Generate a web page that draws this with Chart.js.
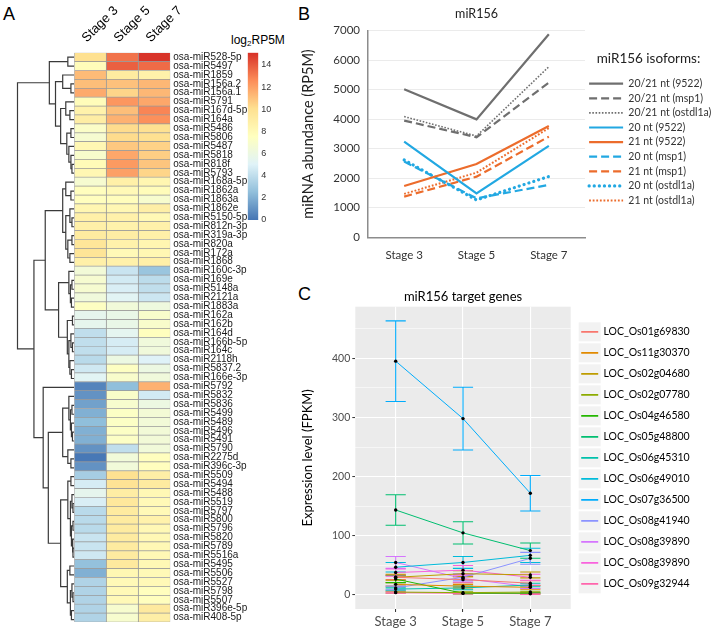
<!DOCTYPE html>
<html><head><meta charset="utf-8">
<script src="https://cdn.jsdelivr.net/npm/chart.js"></script>
<style>
html,body{margin:0;padding:0;background:#fff;}
body{width:712px;height:631px;position:relative;overflow:hidden;}
canvas{position:absolute;}
.lbl{position:absolute;font-family:"Liberation Sans",Arial,sans-serif;font-size:18px;line-height:18px;color:#000;}
.cbt{position:absolute;font-family:"Liberation Sans",Arial,sans-serif;font-size:12px;line-height:14px;color:#000;white-space:nowrap;}
.cbt sub{font-size:8px;vertical-align:-2px;}
</style></head><body>
<div class="lbl" style="left:3px;top:5px">A</div>
<div class="lbl" style="left:298px;top:5px">B</div>
<div class="lbl" style="left:298px;top:285px">C</div>
<div class="cbt" style="left:231px;top:33px">log<sub>2</sub>RP5M</div>
<canvas id="dendro" width="75" height="631" style="left:0;top:0"></canvas>
<canvas id="heat" width="190" height="631" style="left:64px;top:0"></canvas>
<canvas id="cbar" width="70" height="200" style="left:225px;top:30px"></canvas>
<canvas id="panelB" width="412" height="262" style="left:300px;top:0"></canvas>
<canvas id="panelC" width="412" height="366" style="left:300px;top:265px"></canvas>
<script>
// ---------------- DATA ----------------
const stageLabels = ['Stage 3', 'Stage 5', 'Stage 7'];

const mirNames = ['osa-miR528-5p','osa-miR5497','osa-miR1859','osa-miR156a.2','osa-miR156a.1','osa-miR5791','osa-miR167d-5p','osa-miR164a',
 'osa-miR5486','osa-miR5806','osa-miR5487','osa-miR5818','osa-miR818f','osa-miR5793','osa-miR168a-5p','osa-miR1862a','osa-miR1863a',
 'osa-miR1862e','osa-miR5150-5p','osa-miR812n-3p','osa-miR319a-3p','osa-miR820a','osa-miR172a','osa-miR1868','osa-miR160c-3p',
 'osa-miR169e','osa-miR5148a','osa-miR2121a','osa-miR1883a','osa-miR162a','osa-miR162b','osa-miR164d','osa-miR166b-5p','osa-miR164c',
 'osa-miR2118h','osa-miR5837.2','osa-miR166e-3p','osa-miR5792','osa-miR5832','osa-miR5836','osa-miR5499','osa-miR5489','osa-miR5496',
 'osa-miR5491','osa-miR5790','osa-miR2275d','osa-miR396c-3p','osa-miR5509','osa-miR5494','osa-miR5488','osa-miR5519','osa-miR5797',
 'osa-miR5800','osa-miR5796','osa-miR5820','osa-miR5789','osa-miR5516a','osa-miR5495','osa-miR5506','osa-miR5527','osa-miR5798',
 'osa-miR5507','osa-miR396e-5p','osa-miR408-5p'];

// log2 RP5M per stage
const stage3Vals = [10,7.8,11.2,11.1,11.7,7.8,8.6,9.0,7.2,6.8,8.2,7.0,7.9,8.2,6.8,7.6,7.6,8.3,8.8,8.8,9.2,9.6,9.7,8.8,
 6.5,6.8,6.8,6.3,7.4,5.5,5.5,4.0,4.0,4.0,3.8,4.5,5.2,0.5,1.0,1.5,2.0,2.5,2.0,2.0,1.0,0.1,1.0,3.2,4.7,5.5,4.8,3.8,3.8,3.8,4.3,4.3,4.5,2.6,2.0,3.5,3.5,3.5,3.5,3.5];
const stage5Vals = [13.3,13.8,9.2,11.0,10.4,12.3,11.1,11.5,10.2,10.2,10.8,11.8,12.2,12.0,8.8,8.0,7.7,8.2,8.7,8.6,9.0,8.6,8.0,8.7,
 4.3,4.6,4.8,5.2,6.4,5.8,5.8,5.4,4.7,4.7,6.0,7.4,7.0,2.5,7.1,6.9,7.3,7.3,7.3,7.3,4.0,6.4,6.4,10.0,9.8,9.0,9.4,9.2,9.2,9.2,9.2,9.2,9.2,9.3,8.2,8.0,8.0,8.0,6.9,6.9];
const stage7Vals = [15.0,13.5,8.7,11.3,11.3,11.8,12.8,12.5,10.0,10.0,10.5,10.6,10.9,10.4,8.3,7.8,6.9,8.9,8.1,8.7,8.8,8.3,8.2,8.8,
 2.8,3.9,4.0,4.4,6.2,7.0,7.0,7.6,6.3,6.3,5.0,6.0,6.3,11.5,4.6,6.0,6.6,6.5,6.5,6.5,6.4,7.6,7.6,8.9,9.2,8.1,8.0,8.0,8.6,8.1,8.1,8.1,8.1,8.1,8.0,8.0,7.6,7.6,9.3,8.9];
const colorMax = 15.1;
const legendTicks = [0, 2, 4, 6, 8, 10, 12, 14];

// row clustering: [left, right, height]; plain numbers are row indices
const clusterTop = [[0, 1, 6], [[2, [3, 4, 3], 11], [[5, [6, 7, 4], 8], [[8, 9, 3], [10, [11, [12, 13, 2], 3], 5], 7], 13], 18], 24];
const clusterMid = [[[14, [15, 16, 3], 8], [[17, [18, 19, 2], 4], [[20, 21, 2], [22, 23, 4], 6], 8], 11],
                    [[24, [[25, 26, 2], [27, 28, 2.5], 3.5], 5], [[29, 30, 1.5], [[31, [32, 33, 1.5], 3], [34, [35, 36, 2.5], 4], 5], 6.5], 15], 28];
const clusterLow = [37, [[[38, [[39, 40, 2], [41, [42, 43, 1.5], 2.5], 3.5], 5], [44, [45, 46, 3], 6], 11],
                        [[[47, 48, 3], [[49, [50, 51, 1], 2], [[52, 53, 1], [54, [55, 56, 1], 1.5], 2.5], 3.5], 6],
                         [[57, 58, 4], [[59, [60, 61, 1], 2], [62, 63, 2.5], 3.5], 6.5], 13], 25], 30];
const dendroTree = [clusterTop, [clusterMid, clusterLow, 39], 55];

// Panel B
const isoformNames = ['20/21 nt (9522)','20/21 nt (msp1)','20/21 nt (ostdl1a)','20 nt (9522)','21 nt (9522)','20 nt (msp1)','21 nt (msp1)','20 nt (ostdl1a)','21 nt (ostdl1a)'];
const isoformValues = [
  [5015, 3995, 6880],
  [3955, 3390, 5240],
  [4090, 3430, 5780],
  [3240, 1490, 3100],
  [1740, 2485, 3770],
  [2565, 1320, 1775],
  [1380, 2055, 3410],
  [2620, 1265, 2060],
  [1470, 2190, 3700]
];
const bTicks = [0, 1000, 2000, 3000, 4000, 5000, 6000, 7000];

// Panel C
const geneNames = ['LOC_Os01g69830','LOC_Os11g30370','LOC_Os02g04680','LOC_Os02g07780','LOC_Os04g46580','LOC_Os05g48800',
 'LOC_Os06g45310','LOC_Os06g49010','LOC_Os07g36500','LOC_Os08g41940','LOC_Os08g39890','LOC_Os08g39890','LOC_Os09g32944'];
const geneMeans = [
  [30, 26, 20], [18, 15, 13], [30, 36, 34], [5, 4, 5], [27, 3, 3], [143.6, 105, 75],
  [10, 12, 17], [47, 55, 67], [395, 298, 172], [12, 30, 62], [55, 28, 14], [38, 42, 30], [4, 3, 2]
];
const geneSE = [
  [4, 5, 4], [3, 3, 3], [5, 5, 5], [1.5, 1.5, 1.5], [6, 1, 1], [25.8, 18.7, 13],
  [2, 3, 3], [8, 10, 12], [68, 53, 30], [3, 6, 10], [10, 6, 3], [6, 8, 5], [1, 1, 1]
];
const cTicks = [0, 50, 100, 150, 200, 250, 300, 350, 400, 450];

// ---------------- STYLES ----------------
const heatPalette = ['#4575B4','#91BFDB','#E0F3F8','#FFFFBF','#FEE090','#FC8D59','#D73027'];
const genePalette = ['#F8766D','#E18A00','#BE9C00','#8CAB00','#24B700','#00BE70','#00C1AB','#00BBDA','#00ACFC','#8B93FF','#D575FE','#F962DD','#FF65AC'];
const GREY = '#6f6f6f', BLUE = '#22a8e2', ORANGE = '#ec6c2c';
const isoformStyles = [
  {color: GREY, dash: [], width: 2.2, cap: 'butt'},
  {color: GREY, dash: [8, 4], width: 2.2, cap: 'butt'},
  {color: GREY, dash: [1.6, 1.6], width: 1.6, cap: 'butt'},
  {color: BLUE, dash: [], width: 2.2, cap: 'butt'},
  {color: ORANGE, dash: [], width: 2.2, cap: 'butt'},
  {color: BLUE, dash: [8, 4], width: 2.2, cap: 'butt'},
  {color: ORANGE, dash: [8, 4], width: 2.2, cap: 'butt'},
  {color: BLUE, dash: [0.1, 5], width: 3.2, cap: 'round'},
  {color: ORANGE, dash: [1.8, 1.8], width: 2, cap: 'butt'}
];

function hexToRgb(h) { return [parseInt(h.slice(1,3),16), parseInt(h.slice(3,5),16), parseInt(h.slice(5,7),16)]; }
function valueColor(v) {
  const t = Math.max(0, Math.min(1, v / colorMax)) * (heatPalette.length - 1);
  const i = Math.min(Math.floor(t), heatPalette.length - 2), f = t - i;
  const a = hexToRgb(heatPalette[i]), b = hexToRgb(heatPalette[i + 1]);
  return 'rgb(' + a.map((c, k) => Math.round(c + (b[k] - c) * f)).join(',') + ')';
}

Chart.defaults.animation = false;
Chart.defaults.responsive = false;
Chart.defaults.devicePixelRatio = 1;
Chart.defaults.plugins.tooltip.enabled = false;

// ---------------- DENDROGRAM ----------------
const dendroSets = [];
(function walk(node) {
  if (typeof node === 'number') return {y: node, h: 0};
  const l = walk(node[0]), r = walk(node[1]), h = node[2];
  dendroSets.push({data: [{x: l.h, y: l.y}, {x: h, y: l.y}, {x: h, y: r.y}, {x: r.h, y: r.y}],
    showLine: true, borderColor: '#3a3a3a', borderWidth: 1.2, pointRadius: 0, tension: 0, clip: false});
  return {y: (l.y + r.y) / 2, h: h};
})(dendroTree);

new Chart(document.getElementById('dendro'), {
  type: 'scatter',
  data: {datasets: dendroSets},
  options: {
    layout: {padding: {left: 17.5, right: 1, top: 52.7, bottom: 7}},
    plugins: {legend: {display: false}},
    scales: {
      x: {type: 'linear', reverse: true, min: 0, max: dendroTree[2], display: false},
      y: {type: 'linear', reverse: true, min: -0.5, max: mirNames.length - 0.5, display: false}
    }
  }
});

// ---------------- HEATMAP ----------------
const stageValues = [stage3Vals, stage5Vals, stage7Vals];
new Chart(document.getElementById('heat'), {
  type: 'bar',
  data: {
    labels: mirNames,
    datasets: stageLabels.map((s, j) => ({
      label: s,
      data: mirNames.map(() => [j, j + 1]),
      backgroundColor: stageValues[j].map(valueColor),
      borderColor: '#9a9a9a', borderWidth: 0.7, borderSkipped: false,
      barPercentage: 1, categoryPercentage: 1, grouped: false
    }))
  },
  options: {
    indexAxis: 'y',
    layout: {padding: {left: 10.3, top: 0, right: 0, bottom: 7}},
    plugins: {legend: {display: false}},
    scales: {
      x: {type: 'linear', position: 'top', min: 0, max: stageLabels.length,
        grid: {display: false}, border: {display: false},
        afterBuildTicks: s => { s.ticks = stageLabels.map((_, i) => ({value: i + 0.5})); },
        afterFit: s => { s.height = 52.7; },
        ticks: {autoSkip: false, minRotation: 45, maxRotation: 45, padding: -1, labelOffset: 5,
          font: {family: 'Liberation Sans', size: 13}, color: '#000',
          callback: (v, i) => stageLabels[i]}},
      y: {type: 'category', position: 'right', grid: {display: false, drawTicks: false}, border: {display: false},
        afterFit: s => { s.width = 83.7; },
        ticks: {autoSkip: false, padding: 3, font: {family: 'Liberation Sans', size: 10}, color: '#1a1a1a'}}
    }
  }
});

// ---------------- COLOUR BAR ----------------
new Chart(document.getElementById('cbar'), {
  type: 'bar',
  data: {labels: [''], datasets: [{
    data: [[0, colorMax]], borderWidth: 0, barPercentage: 1, categoryPercentage: 1,
    backgroundColor: c => {
      const ch = c.chart, ys = ch.scales.y;
      if (!ys) return heatPalette[3];
      const p0 = ys.getPixelForValue(0), p1 = ys.getPixelForValue(colorMax);
      if (!isFinite(p0) || !isFinite(p1) || p0 === p1) return heatPalette[3];
      const g = ch.ctx.createLinearGradient(0, p0, 0, p1);
      heatPalette.forEach((col, i) => g.addColorStop(i / (heatPalette.length - 1), col));
      return g;
    }
  }]},
  options: {
    layout: {padding: {left: 22.7, top: 22.7, right: 0, bottom: 10}},
    plugins: {legend: {display: false}},
    scales: {
      x: {display: false},
      y: {position: 'right', min: 0, max: colorMax, grid: {display: false, drawTicks: false}, border: {display: false},
        afterBuildTicks: s => { s.ticks = legendTicks.map(v => ({value: v})); },
        afterFit: s => { s.width = 36.7; },
        ticks: {padding: 3, font: {family: 'Liberation Sans', size: 9}, color: '#333'}}
    }
  }
});

// ---------------- PANEL B ----------------
new Chart(document.getElementById('panelB'), {
  type: 'line',
  data: {
    labels: stageLabels,
    datasets: isoformNames.map((n, i) => ({
      label: n, data: isoformValues[i],
      borderColor: isoformStyles[i].color, backgroundColor: isoformStyles[i].color,
      borderDash: isoformStyles[i].dash, borderWidth: isoformStyles[i].width, borderCapStyle: isoformStyles[i].cap,
      pointRadius: 0, tension: 0, fill: false
    }))
  },
  options: {
    layout: {padding: {left: 0, right: 0, top: 0, bottom: 0}},
    plugins: {
      title: {display: true, text: 'miR156', fullSize: false, color: '#222',
        font: {family: 'Lato', size: 12.5, weight: 'normal'}, padding: {top: 6.5, bottom: 9.2}},
      legend: {position: 'right', maxWidth: 127,
        title: {display: true, text: 'miR156 isoforms:', color: '#222', font: {family: 'Lato', size: 13.5}, padding: {top: 0, bottom: 6}},
        labels: {usePointStyle: true, pointStyle: 'line', pointStyleWidth: 34, padding: 4.1,
          font: {family: 'Lato', size: 10.5}, color: '#333',
          generateLabels: ch => Chart.defaults.plugins.legend.labels.generateLabels(ch).map(l => {
            const st = isoformStyles[l.datasetIndex];
            return Object.assign(l, {lineWidth: st.width, lineDash: st.dash, lineCap: st.cap, strokeStyle: st.color});
          })}}
    },
    scales: {
      x: {offset: true, grid: {display: false, drawTicks: false}, border: {color: '#8c8c8c', width: 1.5},
        afterFit: s => { s.height = 24.7; },
        ticks: {padding: 11, font: {family: 'Lato', size: 11.5}, color: '#333'}},
      y: {min: 0, max: 7000, grid: {color: '#e6e6e6', lineWidth: 0.8, drawTicks: false}, border: {color: '#8c8c8c', width: 1.5},
        afterBuildTicks: s => { s.ticks = bTicks.map(v => ({value: v})); },
        afterFit: s => { s.width = 68; },
        title: {display: true, text: 'miRNA abundance (RP5M)', color: '#222', font: {family: 'Lato', size: 14.5}, padding: {top: 0, bottom: 4}},
        ticks: {padding: 8, font: {family: 'Lato', size: 11.5}, color: '#333', callback: v => String(v)}}
    }
  }
});

// ---------------- PANEL C ----------------
const capHalf = 0.15;
const panelBgPlugin = {
  id: 'panelBg',
  beforeDraw(chart) {
    const {ctx, chartArea: a} = chart;
    ctx.save();
    ctx.fillStyle = '#EBEBEB';
    ctx.fillRect(a.left, a.top, a.right - a.left, a.bottom - a.top);
    const lg = chart.legend;
    if (lg && lg.legendHitBoxes) {
      ctx.fillStyle = '#F2F2F2';
      lg.legendHitBoxes.forEach(hb => { ctx.fillRect(hb.left - 2.5, hb.top + hb.height / 2 - 9.5, 22, 19); });
    }
    ctx.restore();
  }
};
const errorBarPlugin = {
  id: 'errorBars',
  beforeDatasetsDraw(chart) {
    const {ctx, scales: {x, y}} = chart;
    ctx.save();
    ctx.lineWidth = 1.1;
    geneMeans.forEach((m, i) => {
      ctx.strokeStyle = genePalette[i];
      m.forEach((v, j) => {
        const px = x.getPixelForValue(j + 1);
        const w = x.getPixelForValue(j + 1 + capHalf) - px;
        const lo = y.getPixelForValue(v - geneSE[i][j]), hi = y.getPixelForValue(v + geneSE[i][j]);
        ctx.beginPath();
        ctx.moveTo(px, lo); ctx.lineTo(px, hi);
        ctx.moveTo(px - w, lo); ctx.lineTo(px + w, lo);
        ctx.moveTo(px - w, hi); ctx.lineTo(px + w, hi);
        ctx.stroke();
      });
    });
    ctx.restore();
  }
};

const chartC = new Chart(document.getElementById('panelC'), {
  type: 'line',
  data: {
    datasets: geneNames.map((g, i) => ({
      label: g,
      data: geneMeans[i].map((v, j) => ({x: j + 1, y: v})),
      borderColor: genePalette[i], backgroundColor: genePalette[i], borderWidth: 1,
      pointRadius: 1.7, pointBackgroundColor: '#000', pointBorderWidth: 0, tension: 0
    }))
  },
  plugins: [panelBgPlugin, errorBarPlugin],
  options: {
    layout: {padding: {left: 0, right: 0, top: 0, bottom: 0}},
    plugins: {
      title: {display: true, text: 'miR156 target genes', fullSize: false, color: '#000',
        font: {family: 'Lato', size: 13, weight: 'normal'}, padding: {top: 23.9, bottom: 2.2}},
      legend: {position: 'right', fullSize: false, maxWidth: 141.3,
        labels: {usePointStyle: true, pointStyle: 'line', pointStyleWidth: 17, padding: 10.5,
          font: {family: 'Lato', size: 10.5}, color: '#000',
          generateLabels: ch => Chart.defaults.plugins.legend.labels.generateLabels(ch).map(l =>
            Object.assign(l, {lineWidth: 1.8, lineDash: [], strokeStyle: genePalette[l.datasetIndex]}))}}
    },
    scales: {
      x: {type: 'linear', min: 0.4, max: 3.6,
        afterBuildTicks: s => { s.ticks = stageLabels.map((_, i) => ({value: i + 1})); },
        afterFit: s => { s.height = 22; },
        grid: {color: '#fff', lineWidth: 1.1, tickColor: '#333', tickLength: 3, tickWidth: 1},
        border: {display: false},
        ticks: {padding: 2, font: {family: 'Lato', size: 13}, color: '#4D4D4D', callback: (v, i) => stageLabels[i]}},
      y: {min: -23.6, max: 487,
        afterBuildTicks: s => { s.ticks = cTicks.map(v => ({value: v})); },
        afterFit: s => { s.width = 55.3; },
        grid: {color: '#fff', lineWidth: c => (c.tick && c.tick.value % 100 === 0) ? 1.1 : 0.55,
          tickColor: c => (c.tick && c.tick.value % 100 === 0) ? '#333' : 'rgba(0,0,0,0)', tickLength: 3, tickWidth: 1},
        border: {display: false},
        title: {display: true, text: 'Expression level (FPKM)', color: '#000', font: {family: 'Lato', size: 13}, padding: {top: 0, bottom: 4}},
        ticks: {padding: 2, font: {family: 'Lato', size: 10.5}, color: '#4D4D4D', callback: v => (v % 100 === 0 ? v : '')}}
    }
  }
});
// pin the panel's right edge where the reference has it
(function pinRight(chart, target) {
  const diff = chart.chartArea.right - target;
  if (Math.abs(diff) > 0.2) {
    chart.options.layout.padding.right = Math.max(0, chart.options.layout.padding.right + diff);
    chart.update();
  }
})(chartC, 270.7);
</script>
</body></html>
